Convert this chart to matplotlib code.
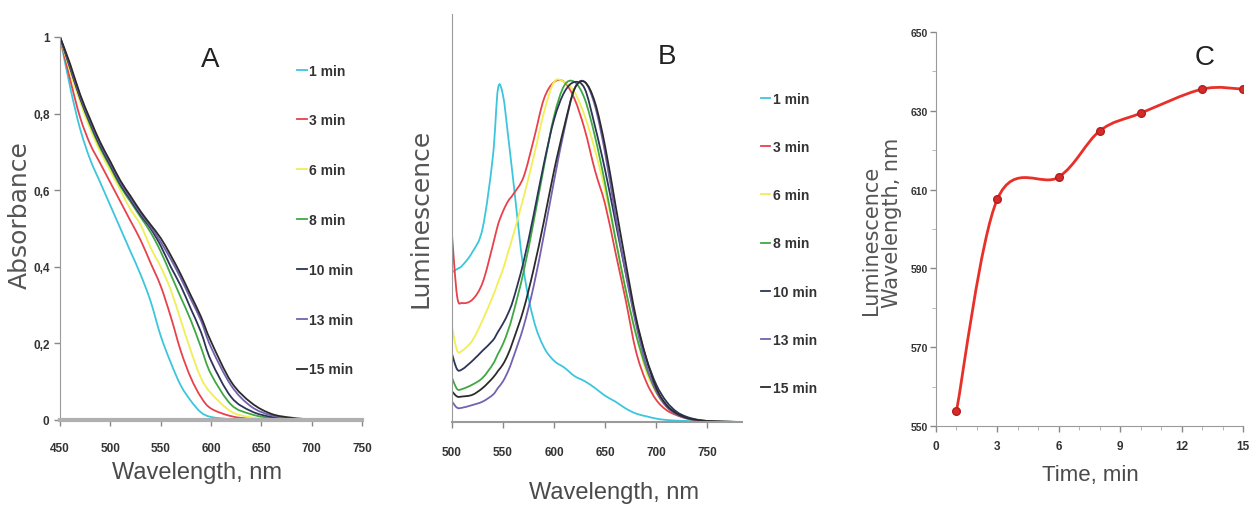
import numpy as np
import matplotlib
matplotlib.use('Agg')
import matplotlib.pyplot as plt
from matplotlib.path import Path
from matplotlib.patches import PathPatch
from matplotlib.lines import Line2D

plt.rcParams['font.family'] = ['Liberation Sans', 'DejaVu Sans']

# --- data ---
labels = ['1 min', '3 min', '6 min', '8 min', '10 min', '13 min', '15 min']
colors = ['#3cc6dc', '#e8414b', '#f2ee55', '#3fa843', '#2c3558', '#7461b0', '#2b2b2b']

# A: absorbance
wlA = [450, 460, 470, 480, 490, 500, 510, 520, 530, 540, 550, 560, 570, 580, 590, 600, 620, 640, 660, 680, 700, 750]
absA = [
    [1.0, 0.87, 0.76, 0.68, 0.62, 0.56, 0.50, 0.44, 0.38, 0.31, 0.22, 0.15, 0.09, 0.05, 0.02, 0.008, 0.002, 0.0, 0.0, 0.0, 0.0, 0.0],
    [1.0, 0.89, 0.79, 0.72, 0.67, 0.62, 0.57, 0.52, 0.47, 0.41, 0.35, 0.27, 0.18, 0.11, 0.06, 0.03, 0.01, 0.003, 0.001, 0.0, 0.0, 0.0],
    [1.0, 0.91, 0.83, 0.76, 0.70, 0.65, 0.60, 0.55, 0.51, 0.45, 0.40, 0.34, 0.26, 0.18, 0.11, 0.07, 0.022, 0.007, 0.002, 0.001, 0.0, 0.0],
    [1.0, 0.92, 0.84, 0.77, 0.71, 0.66, 0.61, 0.57, 0.53, 0.49, 0.44, 0.38, 0.32, 0.26, 0.19, 0.12, 0.04, 0.015, 0.005, 0.002, 0.001, 0.0],
    [1.0, 0.92, 0.84, 0.775, 0.715, 0.665, 0.615, 0.575, 0.535, 0.50, 0.455, 0.40, 0.35, 0.29, 0.23, 0.155, 0.06, 0.023, 0.008, 0.003, 0.001, 0.0],
    [1.0, 0.925, 0.845, 0.78, 0.72, 0.67, 0.62, 0.58, 0.54, 0.505, 0.465, 0.42, 0.37, 0.315, 0.26, 0.19, 0.09, 0.035, 0.012, 0.004, 0.0015, 0.0],
    [1.0, 0.93, 0.85, 0.785, 0.725, 0.675, 0.625, 0.585, 0.545, 0.51, 0.475, 0.43, 0.38, 0.325, 0.27, 0.205, 0.10, 0.045, 0.016, 0.006, 0.002, 0.0],
]

# B: normalised luminescence
wlB = [500, 505, 510, 520, 530, 540, 545, 550, 555, 560, 570, 580, 590, 600, 610, 620, 630, 640, 650, 660, 670, 680, 690, 700, 710, 720, 730, 740, 750, 765, 785]
lumB = [
    [0.44, 0.45, 0.46, 0.50, 0.57, 0.78, 0.98, 0.96, 0.84, 0.71, 0.45, 0.30, 0.22, 0.18, 0.16, 0.135, 0.12, 0.10, 0.077, 0.06, 0.04, 0.025, 0.017, 0.01, 0.006, 0.004, 0.003, 0.002, 0.001, 0.0, 0.0],
    [0.55, 0.37, 0.35, 0.36, 0.41, 0.52, 0.58, 0.62, 0.65, 0.67, 0.72, 0.83, 0.95, 1.0, 1.0, 0.95, 0.86, 0.74, 0.64, 0.50, 0.36, 0.21, 0.12, 0.065, 0.035, 0.02, 0.01, 0.005, 0.002, 0.0, 0.0],
    [0.28, 0.21, 0.21, 0.24, 0.30, 0.37, 0.41, 0.45, 0.50, 0.55, 0.66, 0.78, 0.91, 1.0, 1.0, 0.97, 0.90, 0.80, 0.68, 0.54, 0.39, 0.26, 0.15, 0.085, 0.045, 0.025, 0.012, 0.006, 0.003, 0.001, 0.0],
    [0.13, 0.097, 0.097, 0.11, 0.13, 0.17, 0.20, 0.23, 0.27, 0.32, 0.44, 0.59, 0.75, 0.90, 0.99, 1.0, 0.95, 0.84, 0.70, 0.54, 0.39, 0.26, 0.16, 0.09, 0.05, 0.025, 0.012, 0.006, 0.003, 0.001, 0.0],
    [0.20, 0.155, 0.155, 0.18, 0.21, 0.24, 0.265, 0.29, 0.32, 0.36, 0.47, 0.61, 0.76, 0.89, 0.97, 1.0, 0.98, 0.87, 0.74, 0.59, 0.44, 0.30, 0.19, 0.11, 0.06, 0.03, 0.015, 0.007, 0.003, 0.001, 0.0],
    [0.06, 0.042, 0.042, 0.05, 0.06, 0.08, 0.10, 0.12, 0.15, 0.19, 0.28, 0.40, 0.55, 0.71, 0.86, 0.98, 1.0, 0.93, 0.79, 0.61, 0.44, 0.29, 0.17, 0.09, 0.045, 0.022, 0.011, 0.005, 0.002, 0.001, 0.0],
    [0.09, 0.075, 0.075, 0.08, 0.10, 0.13, 0.15, 0.17, 0.20, 0.24, 0.33, 0.45, 0.59, 0.74, 0.87, 0.98, 1.0, 0.94, 0.81, 0.64, 0.47, 0.31, 0.19, 0.10, 0.05, 0.025, 0.012, 0.006, 0.003, 0.001, 0.0],
]

# C: peak position vs time
timeC = [1, 3, 6, 8, 10, 13, 15]
peakC = [553.8, 607.6, 613.2, 624.9, 629.4, 635.5, 635.5]

W, H = 1251, 506
fig = plt.figure(figsize=(W / 100, H / 100), dpi=100)


def box(l, r, t, b):
    return [l / W, (H - b) / H, (r - l) / W, (b - t) / H]


def put(x, y, s, **kw):
    # text placed by pixel position in the figure
    fig.text(x / W, 1 - y / H, s, ha='center', va='center', **kw)


def smooth(ax, x, y, **kw):
    # cubic Bezier through the points (spreadsheet style smoothed line)
    P = np.column_stack([x, y]).astype(float)
    n = len(P)
    verts = [P[0]]
    codes = [Path.MOVETO]
    for i in range(n - 1):
        p0 = P[i - 1] if i > 0 else P[i]
        p3 = P[i + 2] if i + 2 < n else P[i + 1]
        verts += [P[i] + (P[i + 1] - p0) / 6, P[i + 1] - (p3 - P[i]) / 6, P[i + 1]]
        codes += [Path.CURVE4] * 3
    ax.add_patch(PathPatch(Path(verts, codes), facecolor='none', **kw))


def style(ax, pad):
    for s in ['top', 'right']:
        ax.spines[s].set_visible(False)
    for s in ['left', 'bottom']:
        ax.spines[s].set_color('#9a9a9a')
    ax.tick_params(labelsize=8.5, colors='#888888', labelcolor='#333333', length=4, width=1)
    ax.tick_params(axis='x', pad=pad)
    for t in ax.get_xticklabels() + ax.get_yticklabels():
        t.set_fontweight('bold')


def legend(ax, x, y, loc, spacing):
    handles = [Line2D([], [], color=c, lw=1.3) for c in colors]
    leg = ax.legend(handles, labels, loc=loc, bbox_to_anchor=(x / W, 1 - y / H), bbox_transform=fig.transFigure,
                    frameon=False, fontsize=10, handlelength=0.7, handletextpad=0.2, labelspacing=spacing)
    for t in leg.get_texts():
        t.set_fontweight('bold')
        t.set_color('#333333')


lab = dict(color='#4a4a4a')
ylab = dict(color='#555555', family=['DejaVu Sans'], rotation=90)

# ---- A ----
axA = fig.add_axes(box(60, 362, 38, 421))
for i in range(len(labels)):
    smooth(axA, wlA, absA[i], edgecolor=colors[i], lw=1.3)
axA.set_xlim(450, 750)
axA.set_ylim(0, 1)
axA.set_xticks([450, 500, 550, 600, 650, 700, 750])
axA.set_yticks([0, 0.2, 0.4, 0.6, 0.8, 1])
axA.set_yticklabels(['0', '0,2', '0,4', '0,6', '0,8', '1'])
style(axA, 12)
axA.spines['bottom'].set_linewidth(3)
axA.spines['bottom'].set_color('#b0b0b0')
put(197, 473, 'Wavelength, nm', fontsize=17, **lab)
put(20, 215, 'Absorbance', fontsize=18, **ylab)
put(210, 60, 'A', fontsize=20, color='#222222')
legend(axA, 366, 52, 'upper right', 2.58)

# ---- B ----
axB = fig.add_axes(box(452, 742, 15, 423))
for i in range(len(labels)):
    smooth(axB, wlB, lumB[i], edgecolor=colors[i], lw=1.3)
axB.set_xlim(500, 784)
axB.set_ylim(0, 1.2)
axB.set_xticks([500, 550, 600, 650, 700, 750])
axB.set_yticks([])
style(axB, 13)
axB.spines['bottom'].set_linewidth(1.5)
put(614, 493, 'Wavelength, nm', fontsize=17, **lab)
put(420, 218, 'Luminescence', fontsize=18, **ylab)
put(667, 57, 'B', fontsize=20, color='#222222')
legend(axB, 748, 80, 'upper left', 2.47)

# ---- C ----
axC = fig.add_axes(box(936, 1243, 33, 427))
smooth(axC, timeC, peakC, edgecolor='#e83028', lw=2)
axC.plot(timeC, peakC, ls='none', marker='o', ms=5.5, color='#d82a26', mec='#b02020')
axC.set_xlim(0, 15)
axC.set_ylim(550, 650)
axC.set_xticks([0, 3, 6, 9, 12, 15])
axC.set_xticks(range(0, 16), minor=True)
axC.set_yticks([550, 570, 590, 610, 630, 650])
axC.set_yticks(range(550, 651, 10), minor=True)
style(axC, 6)
axC.tick_params(axis='y', labelsize=7.5, pad=2)
axC.tick_params(which='minor', length=3, colors='#aaaaaa')
put(1090, 476, 'Time, min', fontsize=16, **lab)
put(871, 240, 'Luminescence', fontsize=15, **ylab)
put(892, 223, 'Wavelength, nm', fontsize=15, **ylab)
put(1205, 58, 'C', fontsize=20, color='#222222')

fig.savefig('out.png', dpi=100)
